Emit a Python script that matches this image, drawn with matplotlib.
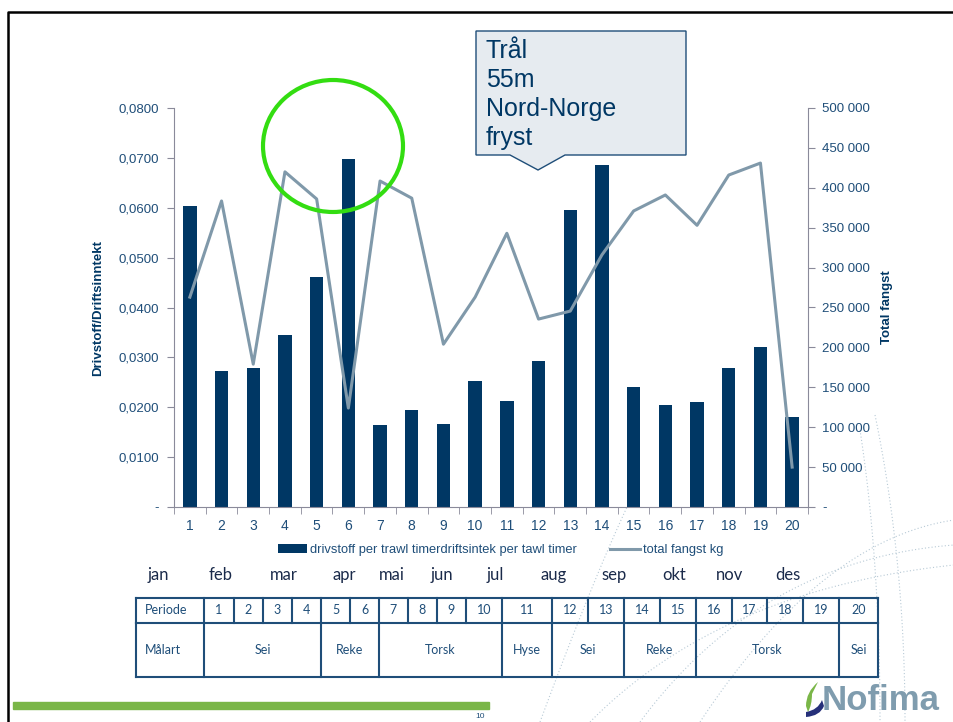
import numpy as np
import matplotlib.pyplot as plt
from matplotlib.patches import Polygon, Ellipse, Rectangle, PathPatch
from matplotlib.path import Path
from matplotlib.lines import Line2D
from matplotlib.ticker import FuncFormatter

plt.rcParams['font.family'] = ['Liberation Sans', 'DejaVu Sans']

# data
periods = list(range(1, 21))
drivstoff = [0.0603, 0.0273, 0.0279, 0.0345, 0.0461, 0.0697, 0.0164, 0.0194, 0.0166, 0.0253,
             0.0212, 0.0293, 0.0595, 0.0685, 0.0240, 0.0204, 0.0210, 0.0279, 0.0321, 0.0180]
fangst = [263000, 383500, 179000, 420000, 386000, 124000, 408500, 387000, 204000, 263000,
          343000, 235500, 245500, 316000, 371000, 391000, 353000, 416000, 431000, 50000]
months = ['jan', 'feb', 'mar', 'apr', 'mai', 'jun', 'jul', 'aug', 'sep', 'okt', 'nov', 'des']
month_x = [158, 221, 284, 344, 392, 442, 495, 554, 614, 674, 730, 788]
malart = ['Sei', 'Reke', 'Torsk', 'Hyse', 'Sei', 'Reke', 'Torsk', 'Sei']
malart_span = [(1, 4), (5, 6), (7, 10), (11, 11), (12, 13), (14, 15), (16, 19), (20, 20)]
callout_lines = ['Trål', '55m', 'Nord-Norge', 'fryst']

NAVY = '#003764'
LINE = '#8099aa'
TXT = '#1f4e79'
W, H = 954, 722

fig = plt.figure(figsize=(W / 100, H / 100), dpi=100)


def fx(x):
    return x / W


def fy(y):
    return 1 - y / H


ax = fig.add_axes([fx(174), fy(507), fx(808) - fx(174), fy(108) - fy(507)])
x = np.array(periods)
bars = ax.bar(x, drivstoff, width=0.42, color=NAVY, zorder=2)
ax.set_xlim(0.5, 20.5)
ax.set_ylim(0, 0.08)
ax.set_yticks(np.arange(0, 0.0801, 0.01))
ax.yaxis.set_major_formatter(FuncFormatter(lambda v, p: '-' if v == 0 else f'{v:.4f}'.replace('.', ',')))
ax.set_xticks(x)
ax.set_xticks(np.arange(0.5, 21, 1), minor=True)
ax.tick_params(axis='x', which='major', length=0, pad=9, labelsize=10, labelcolor=TXT)
ax.tick_params(axis='x', which='minor', length=5, color='#8a8a9a', direction='out')
ax.tick_params(axis='y', length=5, color='#8a8a9a', labelsize=9.5, labelcolor=TXT, pad=6)
for s in ['top', 'right']:
    ax.spines[s].set_visible(False)
for s in ['left', 'bottom']:
    ax.spines[s].set_color('#8a8a9a')
ax.set_ylabel('Drivstoff/Driftsinntekt', fontsize=9.5, fontweight='bold', color=NAVY, labelpad=10)

ax2 = ax.twinx()
ln, = ax2.plot(x, fangst, color=LINE, lw=2.2, zorder=3)
ax2.set_ylim(0, 500000)
ax2.set_yticks(np.arange(0, 500001, 50000))
ax2.yaxis.set_major_formatter(FuncFormatter(lambda v, p: '-' if v == 0 else f'{int(v):,}'.replace(',', ' ')))
ax2.tick_params(axis='y', length=5, color='#8a8a9a', labelsize=9.5, labelcolor=TXT, pad=5)
for s in ['top', 'left', 'bottom']:
    ax2.spines[s].set_visible(False)
ax2.spines['right'].set_color('#8a8a9a')
ax2.set_ylabel('Total fangst', fontsize=9.5, fontweight='bold', color=NAVY, labelpad=8)

# legend
fig.legend([bars, ln], ['drivstoff per trawl timerdriftsintek per tawl timer', 'total fangst kg'],
           loc='center left', bbox_to_anchor=(fx(266), fy(550)), ncol=2, frameon=False,
           fontsize=9.3, labelcolor=TXT, handlelength=2.3, handletextpad=0.2, columnspacing=2.6)

# months
for m, mx in zip(months, month_x):
    fig.text(fx(mx), fy(575), m, ha='center', va='center', fontsize=12, color='#1a2a4a',
             family=['Lato', 'DejaVu Sans'])

# table
col_edges = [136, 204, 234, 263, 292, 321, 350, 379, 408, 437, 466, 502, 552, 588, 624, 660,
             696, 732, 767, 803, 839, 878]
top, mid, bot = 598, 623, 677
tcol = '#1f4e79'
tfont = dict(fontsize=9, color=TXT, family=['Lato', 'DejaVu Sans'], ha='center', va='center')
for yy in [top, mid, bot]:
    fig.add_artist(Line2D([fx(136), fx(878)], [fy(yy), fy(yy)], color=tcol, lw=1.5))
for xe in col_edges:
    fig.add_artist(Line2D([fx(xe), fx(xe)], [fy(top), fy(mid)], color=tcol, lw=1.5))
fig.text(fx(145), fy((top + mid) / 2), 'Periode', **{**tfont, 'ha': 'left'})
fig.text(fx(145), fy((mid + bot) / 2), 'Målart', **{**tfont, 'ha': 'left'})
for i, p in enumerate(periods):
    fig.text(fx((col_edges[i + 1] + col_edges[i + 2]) / 2), fy((top + mid) / 2), str(p), **tfont)
row2_edges = {136, 204, 878}
for (a, b), name in zip(malart_span, malart):
    xl, xr = col_edges[a], col_edges[b + 1]
    row2_edges.update([xl, xr])
    fig.text(fx((xl + xr) / 2), fy((mid + bot) / 2), name, **tfont)
for xe in sorted(row2_edges):
    fig.add_artist(Line2D([fx(xe), fx(xe)], [fy(mid), fy(bot)], color=tcol, lw=1.5))

# callout box
pts = [(476, 31), (686, 31), (686, 155), (565, 155), (538, 170), (510, 155), (476, 155)]
fig.add_artist(Polygon([(fx(a), fy(b)) for a, b in pts], closed=True, facecolor='#e6ebf0',
                       edgecolor='#1f4e79', lw=1.0, transform=fig.transFigure))
for i, t in enumerate(callout_lines):
    fig.text(fx(486), fy(51 + i * 29), t, fontsize=18, color=NAVY, ha='left', va='center')

# green circle
fig.add_artist(Ellipse((fx(333), fy(146)), 140 / W, 132 / H, fill=False, edgecolor='#33dd11',
                       lw=3, transform=fig.transFigure, zorder=10))

# slide border and footer
fig.add_artist(Line2D([fx(8), fx(8), fx(954)], [fy(722), fy(12), fy(12)], color='black', lw=1.8))
fig.add_artist(Rectangle((fx(13), fy(709)), (489 - 13) / W, 7 / H, color='#7ab648',
                         transform=fig.transFigure))
fig.text(fx(480), fy(717), '10', fontsize=6, color=TXT, ha='center', va='center')

# decorative dotted curves
dc = '#b8cad6'
for (x0, y0, x1, y1, cx, cy) in [(875, 415, 905, 722, 905, 560), (860, 430, 880, 722, 880, 560),
                                  (640, 722, 954, 545, 760, 560), (590, 722, 954, 565, 720, 590),
                                  (700, 722, 954, 520, 820, 540), (540, 722, 640, 480, 600, 560)]:
    t = np.linspace(0, 1, 60)
    bx = (1 - t) ** 2 * x0 + 2 * (1 - t) * t * cx + t ** 2 * x1
    by = (1 - t) ** 2 * y0 + 2 * (1 - t) * t * cy + t ** 2 * y1
    fig.add_artist(Line2D(fx(bx), fy(by), color=dc, lw=0.8, ls=(0, (1, 2)), zorder=0))

# logo
fig.text(fx(822), fy(701), 'Nofima', fontsize=25, fontweight='bold', color='#7f9cae',
         ha='left', va='center')
sw = Path([(fx(818), fy(682)), (fx(806), fy(692)), (fx(806), fy(706)), (fx(808), fy(712)),
           (fx(812), fy(705)), (fx(812), fy(694)), (fx(818), fy(682))],
          [Path.MOVETO, Path.CURVE3, Path.CURVE3, Path.LINETO, Path.CURVE3, Path.CURVE3, Path.CLOSEPOLY])
fig.add_artist(PathPatch(sw, facecolor='#7ab648', edgecolor='none', transform=fig.transFigure))
sw2 = Path([(fx(806), fy(712)), (fx(818), fy(710)), (fx(822), fy(700)), (fx(824), fy(706)),
            (fx(820), fy(716)), (fx(806), fy(717)), (fx(806), fy(712))],
           [Path.MOVETO, Path.CURVE3, Path.CURVE3, Path.LINETO, Path.CURVE3, Path.CURVE3, Path.CLOSEPOLY])
fig.add_artist(PathPatch(sw2, facecolor='#26307a', edgecolor='none', transform=fig.transFigure))

fig.savefig('out.png', dpi=100)
